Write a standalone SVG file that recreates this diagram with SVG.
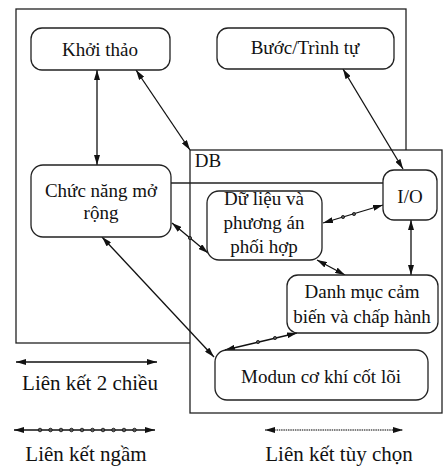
<svg xmlns="http://www.w3.org/2000/svg" width="443" height="467" viewBox="0 0 443 467">
  <style>
    .frame { fill: #fff; stroke: #222; stroke-width: 1.3; }
    .box { fill: #fff; stroke: #222; stroke-width: 1.3; }
    .lbl { font-family: "Liberation Serif", "Times New Roman", serif; font-size: 19px; fill: #111; text-anchor: middle; }
    .leg { font-family: "Liberation Serif", "Times New Roman", serif; font-size: 21px; fill: #111; text-anchor: middle; }
    .link { fill: none; stroke: #111; stroke-width: 1.3; marker-start: url(#arr); marker-end: url(#arr); }
    .plain { fill: none; stroke: #222; stroke-width: 1.3; }
    .opt { fill: none; stroke: #555; stroke-width: 1.6; stroke-dasharray: 1.5 0.8; marker-start: url(#arr); marker-end: url(#arr); }
    .dot { fill: #555; stroke: #111; stroke-width: 0.8; }
  </style>
  <defs>
    <marker id="arr" viewBox="0 0 10 6" refX="10" refY="3" markerWidth="10" markerHeight="6" markerUnits="userSpaceOnUse" orient="auto-start-reverse">
      <path d="M0,0 L10,3 L0,6 z" fill="#111"/>
    </marker>
  </defs>

  <!-- outer system frame, partly covered by the DB frame -->
  <rect class="frame" x="16" y="9" width="390" height="334"/>
  <!-- database frame -->
  <g id="db">
    <rect class="frame" x="190" y="150" width="252" height="263"/>
    <text class="lbl" x="208" y="167">DB</text>
  </g>

  <g id="connectors">
    <line class="plain" x1="171" y1="183" x2="384" y2="183"/>
    <line class="link" x1="97" y1="70" x2="97" y2="165"/>
    <line class="link" x1="136" y1="70" x2="190" y2="150"/>
    <line class="link" x1="343" y1="69" x2="403" y2="169"/>
    <line class="link" x1="172" y1="223" x2="208" y2="253"/>
    <circle class="dot" cx="190" cy="238" r="1.6"/>
    <line class="link" x1="323" y1="223" x2="383" y2="205"/>
    <circle class="dot" cx="343" cy="217" r="1.6"/>
    <circle class="dot" cx="354" cy="214" r="1.6"/>
    <line class="link" x1="317" y1="260" x2="345" y2="275"/>
    <line class="link" x1="411" y1="220" x2="411" y2="275"/>
    <line class="link" x1="102" y1="237" x2="214" y2="357"/>
    <line class="link" x1="297" y1="333" x2="225" y2="350"/>
    <circle class="dot" cx="258" cy="342" r="1.6"/>
    <circle class="dot" cx="275" cy="338" r="1.6"/>
  </g>

  <g id="khoi-thao">
    <rect class="box" x="31" y="28" width="139" height="42" rx="11"/>
    <text class="lbl" x="100" y="56">Khởi thảo</text>
  </g>
  <g id="buoc-trinh-tu">
    <rect class="box" x="217" y="28" width="177" height="41" rx="11"/>
    <text class="lbl" x="305" y="54">Bước/Trình tự</text>
  </g>
  <g id="chuc-nang">
    <rect class="box" x="31" y="165" width="140" height="72" rx="12"/>
    <text class="lbl" x="101" y="197">Chức năng mở</text>
    <text class="lbl" x="101" y="219">rộng</text>
  </g>
  <g id="du-lieu">
    <rect class="box" x="207" y="191" width="115" height="69" rx="12"/>
    <text class="lbl" x="264" y="205">Dữ liệu và</text>
    <text class="lbl" x="264" y="229">phương án</text>
    <text class="lbl" x="264" y="253">phối hợp</text>
  </g>
  <g id="io">
    <rect class="box" x="383" y="170" width="54" height="50" rx="11"/>
    <text class="lbl" x="410" y="203">I/O</text>
  </g>
  <g id="danh-muc">
    <rect class="box" x="287" y="275" width="151" height="58" rx="11"/>
    <text class="lbl" x="362" y="298">Danh mục cảm</text>
    <text class="lbl" x="362" y="323">biến và chấp hành</text>
  </g>
  <g id="modun">
    <rect class="box" x="215" y="350" width="213" height="50" rx="12"/>
    <text class="lbl" x="321" y="383">Modun cơ khí cốt lõi</text>
  </g>

  <!-- legend -->
  <g id="legend">
    <line class="link" x1="16" y1="362" x2="157" y2="362"/>
    <text class="leg" x="90" y="390">Liên kết 2 chiều</text>
    <line class="link" x1="14" y1="430" x2="155" y2="430"/>
    <circle class="dot" cx="40" cy="430" r="1.8"/>
    <circle class="dot" cx="50.5" cy="430" r="1.8"/>
    <circle class="dot" cx="61" cy="430" r="1.8"/>
    <circle class="dot" cx="71.5" cy="430" r="1.8"/>
    <circle class="dot" cx="82" cy="430" r="1.8"/>
    <circle class="dot" cx="92.5" cy="430" r="1.8"/>
    <circle class="dot" cx="103" cy="430" r="1.8"/>
    <circle class="dot" cx="113.5" cy="430" r="1.8"/>
    <circle class="dot" cx="124" cy="430" r="1.8"/>
    <circle class="dot" cx="134.5" cy="430" r="1.8"/>
    <text class="leg" x="86" y="461">Liên kết ngầm</text>
    <line class="opt" x1="265" y1="430" x2="403" y2="430"/>
    <text class="leg" x="339" y="461">Liên kết tùy chọn</text>
  </g>
</svg>
